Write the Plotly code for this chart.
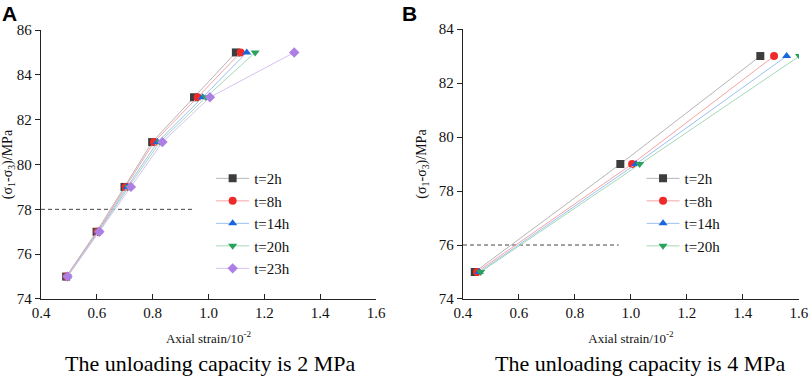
import plotly.graph_objects as go

# ---- Data ----
series_names_a = ["t=2h", "t=8h", "t=14h", "t=20h", "t=23h"]
stress_a = [75, 77, 79, 81, 83, 85]
strain_a_2h = [0.49, 0.599, 0.699, 0.798, 0.948, 1.098]
strain_a_8h = [0.492, 0.602, 0.703, 0.805, 0.961, 1.115]
strain_a_14h = [0.494, 0.605, 0.709, 0.817, 0.979, 1.137]
strain_a_20h = [0.495, 0.607, 0.714, 0.826, 0.991, 1.167]
strain_a_23h = [0.495, 0.609, 0.722, 0.835, 1.005, 1.307]

series_names_b = ["t=2h", "t=8h", "t=14h", "t=20h"]
stress_b = [75, 79, 83]
strain_b_2h = [0.442, 0.962, 1.462]
strain_b_8h = [0.45, 1.004, 1.511]
strain_b_14h = [0.458, 1.018, 1.556]
strain_b_20h = [0.463, 1.031, 1.602]

dash_a_x = [0.4, 0.943]
dash_a_y = [78, 78]
dash_b_x = [0.4, 0.956]
dash_b_y = [76, 76]

x_ticks = [0.4, 0.6, 0.8, 1.0, 1.2, 1.4, 1.6]
x_tick_text = ["0.4", "0.6", "0.8", "1.0", "1.2", "1.4", "1.6"]
y_ticks_a = [74, 76, 78, 80, 82, 84, 86]
y_ticks_b = [74, 76, 78, 80, 82, 84]

caption_a = "The unloading capacity is 2 MPa"
caption_b = "The unloading capacity is 4 MPa"

# ---- Styles ----
marker_colors = ["#3d3d3d", "#ee2a2a", "#1a66dd", "#2aa25c", "#ad7fe4"]
line_colors = ["#b5b5b5", "#f5a3a3", "#9cc0f0", "#a3d9b8", "#d6c2f2"]
symbols = ["square", "circle", "triangle-up", "triangle-down", "diamond"]
SERIF = "Liberation Serif"

fig = go.Figure()

strains_a = [strain_a_2h, strain_a_8h, strain_a_14h, strain_a_20h, strain_a_23h]
strains_b = [strain_b_2h, strain_b_8h, strain_b_14h, strain_b_20h]

fig.add_trace(go.Scatter(x=dash_a_x, y=dash_a_y, mode="lines",
                         line=dict(color="#444444", width=1, dash="4px,3px"),
                         showlegend=False, xaxis="x", yaxis="y"))
fig.add_trace(go.Scatter(x=dash_b_x, y=dash_b_y, mode="lines",
                         line=dict(color="#444444", width=1, dash="4px,3px"),
                         showlegend=False, xaxis="x2", yaxis="y2"))

for i, (name, xs) in enumerate(zip(series_names_a, strains_a)):
    fig.add_trace(go.Scatter(
        x=xs, y=stress_a, mode="lines+markers", name=name,
        line=dict(color=line_colors[i], width=1),
        marker=dict(color=marker_colors[i], symbol=symbols[i], size=8, line=dict(width=0)),
        xaxis="x", yaxis="y", legend="legend"))

for i, (name, xs) in enumerate(zip(series_names_b, strains_b)):
    fig.add_trace(go.Scatter(
        x=xs, y=stress_b, mode="lines+markers", name=name,
        line=dict(color=line_colors[i], width=1),
        marker=dict(color=marker_colors[i], symbol=symbols[i], size=8, line=dict(width=0)),
        xaxis="x2", yaxis="y2", legend="legend2"))

xaxis_common = dict(range=[0.4, 1.6], tickvals=x_ticks, ticktext=x_tick_text, automargin=False,
                    showgrid=False, zeroline=False, showline=True, linecolor="#222222",
                    linewidth=1.3, ticks="inside", ticklen=5, tickcolor="#222222",
                    tickfont=dict(family=SERIF, size=15, color="#111111"),
                    title=dict(text="Axial strain/10<sup>-2</sup>",
                               font=dict(family=SERIF, size=13, color="#111111"), standoff=13))
yaxis_common = dict(showgrid=False, zeroline=False, showline=True, linecolor="#222222", automargin=False,
                    linewidth=1.3, ticks="outside", ticklen=5, tickcolor="#222222",
                    tickfont=dict(family=SERIF, size=15, color="#111111"),
                    title=dict(text="(σ<sub>1</sub>-σ<sub>3</sub>)/MPa",
                               font=dict(family=SERIF, size=14, color="#111111"), standoff=8))

fig.update_layout(
    template="none",
    width=809, height=377,
    margin=dict(l=0, r=0, t=0, b=0, pad=0),
    font=dict(family=SERIF, color="#111111"),
    paper_bgcolor="white", plot_bgcolor="white",
    xaxis=dict(domain=[0.0507, 0.4648], anchor="y", **xaxis_common),
    yaxis=dict(domain=[0.2069, 0.9204], anchor="x", range=[74, 86], tickvals=y_ticks_a, **yaxis_common),
    xaxis2=dict(domain=[0.5723, 0.9876], anchor="y2", **xaxis_common),
    yaxis2=dict(domain=[0.2069, 0.923], anchor="x2", range=[74, 84], tickvals=y_ticks_b, **yaxis_common),
    legend=dict(x=0.261, y=0.57, xanchor="left", yanchor="top", bgcolor="rgba(0,0,0,0)",
                font=dict(family=SERIF, size=15, color="#111111"), tracegroupgap=0,
                itemwidth=33),
    legend2=dict(x=0.793, y=0.57, xanchor="left", yanchor="top", bgcolor="rgba(0,0,0,0)",
                 font=dict(family=SERIF, size=15, color="#111111"), tracegroupgap=0,
                 itemwidth=33),
    annotations=[
        dict(text="<b>A</b>", x=0.0, y=1.0, xref="paper", yref="paper", xanchor="left", yanchor="top",
             showarrow=False, font=dict(family="Liberation Sans", size=21, color="black")),
        dict(text="<b>B</b>", x=0.494, y=1.0, xref="paper", yref="paper", xanchor="left", yanchor="top",
             showarrow=False, font=dict(family="Liberation Sans", size=21, color="black")),
        dict(text=caption_a, x=0.26, y=0.035, xref="paper", yref="paper", xanchor="center", yanchor="middle",
             showarrow=False, font=dict(family=SERIF, size=22, color="black")),
        dict(text=caption_b, x=0.791, y=0.035, xref="paper", yref="paper", xanchor="center", yanchor="middle",
             showarrow=False, font=dict(family=SERIF, size=22, color="black")),
    ],
)

fig.write_html("out.html",
               config={"displayModeBar": False},
               post_script="document.body.style.margin='0';document.body.style.overflow='hidden';")
